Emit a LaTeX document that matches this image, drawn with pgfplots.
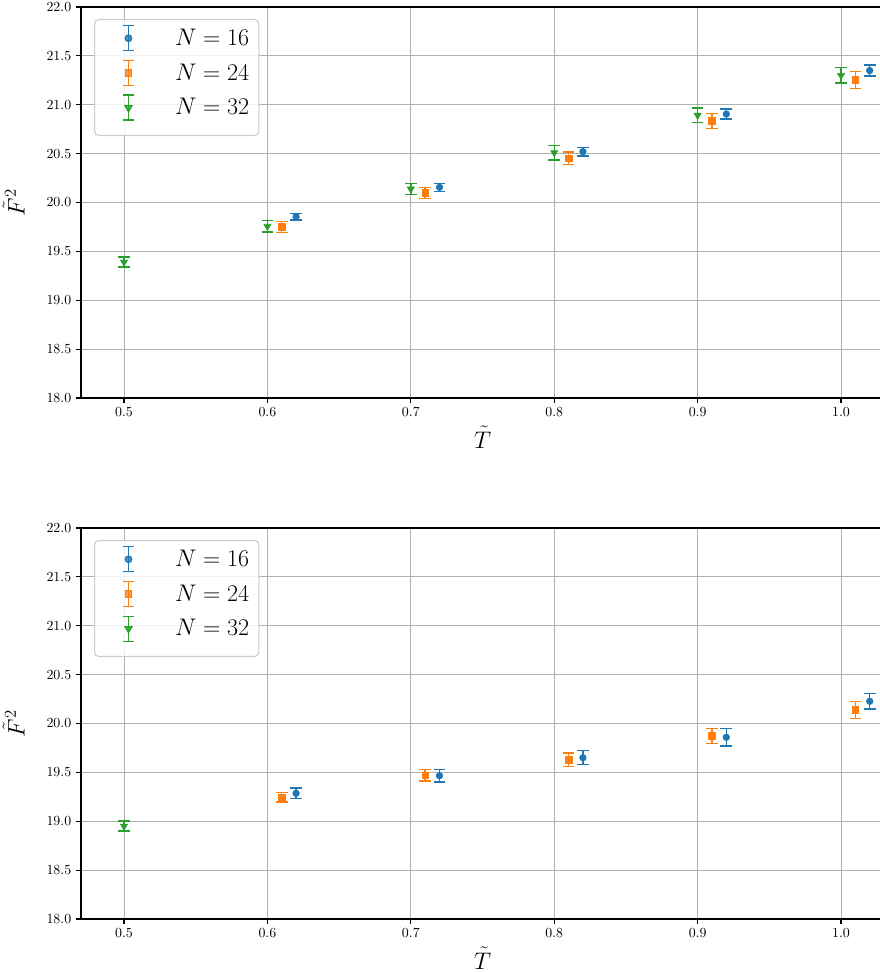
\documentclass[border=0pt]{standalone}
\usepackage{pgfplots}
\pgfplotsset{compat=1.18}
\usepackage{pgfplotstable}
\definecolor{c16}{HTML}{1F77B4}
\definecolor{c24}{HTML}{FF7F0E}
\definecolor{c32}{HTML}{2CA02C}
\definecolor{gridc}{HTML}{B0B0B0}

\pgfplotstableread{
x y e
0.62 19.855 0.034
0.72 20.155 0.041
0.82 20.520 0.044
0.92 20.905 0.051
1.02 21.350 0.055
}\topA
\pgfplotstableread{
x y e
0.61 19.750 0.055
0.71 20.097 0.058
0.81 20.452 0.065
0.91 20.834 0.075
1.01 21.253 0.085
}\topB
\pgfplotstableread{
x y e
0.50 19.390 0.051
0.60 19.756 0.058
0.70 20.138 0.058
0.80 20.510 0.075
0.90 20.892 0.073
1.00 21.300 0.078
}\topC
\pgfplotstableread{
x y e
0.62 19.286 0.055
0.72 19.466 0.065
0.82 19.650 0.072
0.92 19.859 0.089
1.02 20.227 0.080
}\botA
\pgfplotstableread{
x y e
0.61 19.245 0.050
0.71 19.470 0.060
0.81 19.630 0.068
0.91 19.872 0.075
1.01 20.138 0.084
}\botB
\pgfplotstableread{
x y e
0.50 18.950 0.051
}\botC

\pgfplotsset{
  panel/.style={
    scale only axis,
    width=578.2pt, height=281.52pt,
    anchor=south west,
    xmin=0.47, xmax=1.03,
    ymin=18, ymax=22,
    xtick={0.5,0.6,0.7,0.8,0.9,1.0},
    ytick={18,18.5,...,22},
    xticklabel style={/pgf/number format/.cd, fixed, fixed zerofill, precision=1},
    yticklabel style={/pgf/number format/.cd, fixed, fixed zerofill, precision=1},
    tick label style={font=\fontsize{10}{12}\selectfont},
    tick align=outside,
    xtick pos=left, ytick pos=left,
    major tick length=3.5pt,
    tick style={black, line width=0.8pt},
    axis line style={black, line width=0.8pt},
    grid=major,
    major grid style={gridc, line width=0.7pt},
    xlabel={$\tilde{T}$},
    ylabel={$\tilde{F}^2$},
    label style={font=\fontsize{17}{20}\selectfont},
    xlabel style={yshift=0pt},
    ylabel style={yshift=9pt},
    legend cell align=left,
    legend style={
      at={(0,1)}, anchor=north west, xshift=9.4pt, yshift=-8.6pt,
      draw=black!20, rounded corners=3pt, fill=white, fill opacity=0.8, text opacity=1,
      font=\fontsize{17.5}{20}\selectfont,
      inner xsep=4pt, inner ysep=4pt, row sep=6pt,
      line width=0.8pt,
      nodes={inner xsep=3pt, inner ysep=2pt},
    },
  },
  eb/.style={
    only marks, forget plot,
    /pgfplots/error bars/y dir=both,
    /pgfplots/error bars/y explicit,
    /pgfplots/error bars/error bar style={line width=1pt, #1},
    /pgfplots/error bars/error mark options={line width=1pt, mark size=4.2pt, rotate=90, #1},
  },
  leg16/.style={legend image code/.code={
    \path[draw=none] (0,0) -- (51pt,0);
    \draw[c16, line width=1pt] (20.4pt,-9pt) -- (20.4pt,9pt) (16.2pt,-9pt) -- (24.6pt,-9pt) (16.2pt,9pt) -- (24.6pt,9pt);
    \path[c16, draw=none] plot[mark=*, mark size=2.4pt] coordinates {(20.4pt,0)};
  }},
  leg24/.style={legend image code/.code={
    \path[draw=none] (0,0) -- (51pt,0);
    \draw[c24, line width=1pt] (20.4pt,-9pt) -- (20.4pt,9pt) (16.2pt,-9pt) -- (24.6pt,-9pt) (16.2pt,9pt) -- (24.6pt,9pt);
    \path[c24, draw=none] plot[mark=square*, mark size=2.4pt, mark options={draw=c24}] coordinates {(20.4pt,0)};
  }},
  leg32/.style={legend image code/.code={
    \path[draw=none] (0,-16pt) -- (51pt,0);
    \draw[c32, line width=1pt] (20.4pt,-9pt) -- (20.4pt,9pt) (16.2pt,-9pt) -- (24.6pt,-9pt) (16.2pt,9pt) -- (24.6pt,9pt);
    \path[c32, draw=none] plot[mark=triangle*, mark size=3pt, mark options={rotate=180, draw=c32}] coordinates {(20.4pt,0)};
  }},
}

\begin{document}
\begin{tikzpicture}
\useasboundingbox (0,0) rectangle (633.6pt,699.84pt);
\begin{axis}[panel, at={(58.32pt,413.28pt)}]
\addplot[c16, mark=*, mark size=2.4pt, eb=c16] table[x=x, y=y, y error=e] {\topA};
\addplot[c24, mark=square*, mark size=2.4pt, eb=c24] table[x=x, y=y, y error=e] {\topB};
\addplot[c32, mark=triangle*, mark size=3pt, mark options={rotate=180}, eb=c32] table[x=x, y=y, y error=e] {\topC};
\addlegendimage{leg16}
\addlegendentry{$N=16$}
\addlegendimage{leg24}
\addlegendentry{$N=24$}
\addlegendimage{leg32}
\addlegendentry{$N=32$}
\end{axis}
\begin{axis}[panel, at={(58.32pt,38.16pt)}]
\addplot[c16, mark=*, mark size=2.4pt, eb=c16] table[x=x, y=y, y error=e] {\botA};
\addplot[c24, mark=square*, mark size=2.4pt, eb=c24] table[x=x, y=y, y error=e] {\botB};
\addplot[c32, mark=triangle*, mark size=3pt, mark options={rotate=180}, eb=c32] table[x=x, y=y, y error=e] {\botC};
\addlegendimage{leg16}
\addlegendentry{$N=16$}
\addlegendimage{leg24}
\addlegendentry{$N=24$}
\addlegendimage{leg32}
\addlegendentry{$N=32$}
\end{axis}
\end{tikzpicture}
\end{document}
